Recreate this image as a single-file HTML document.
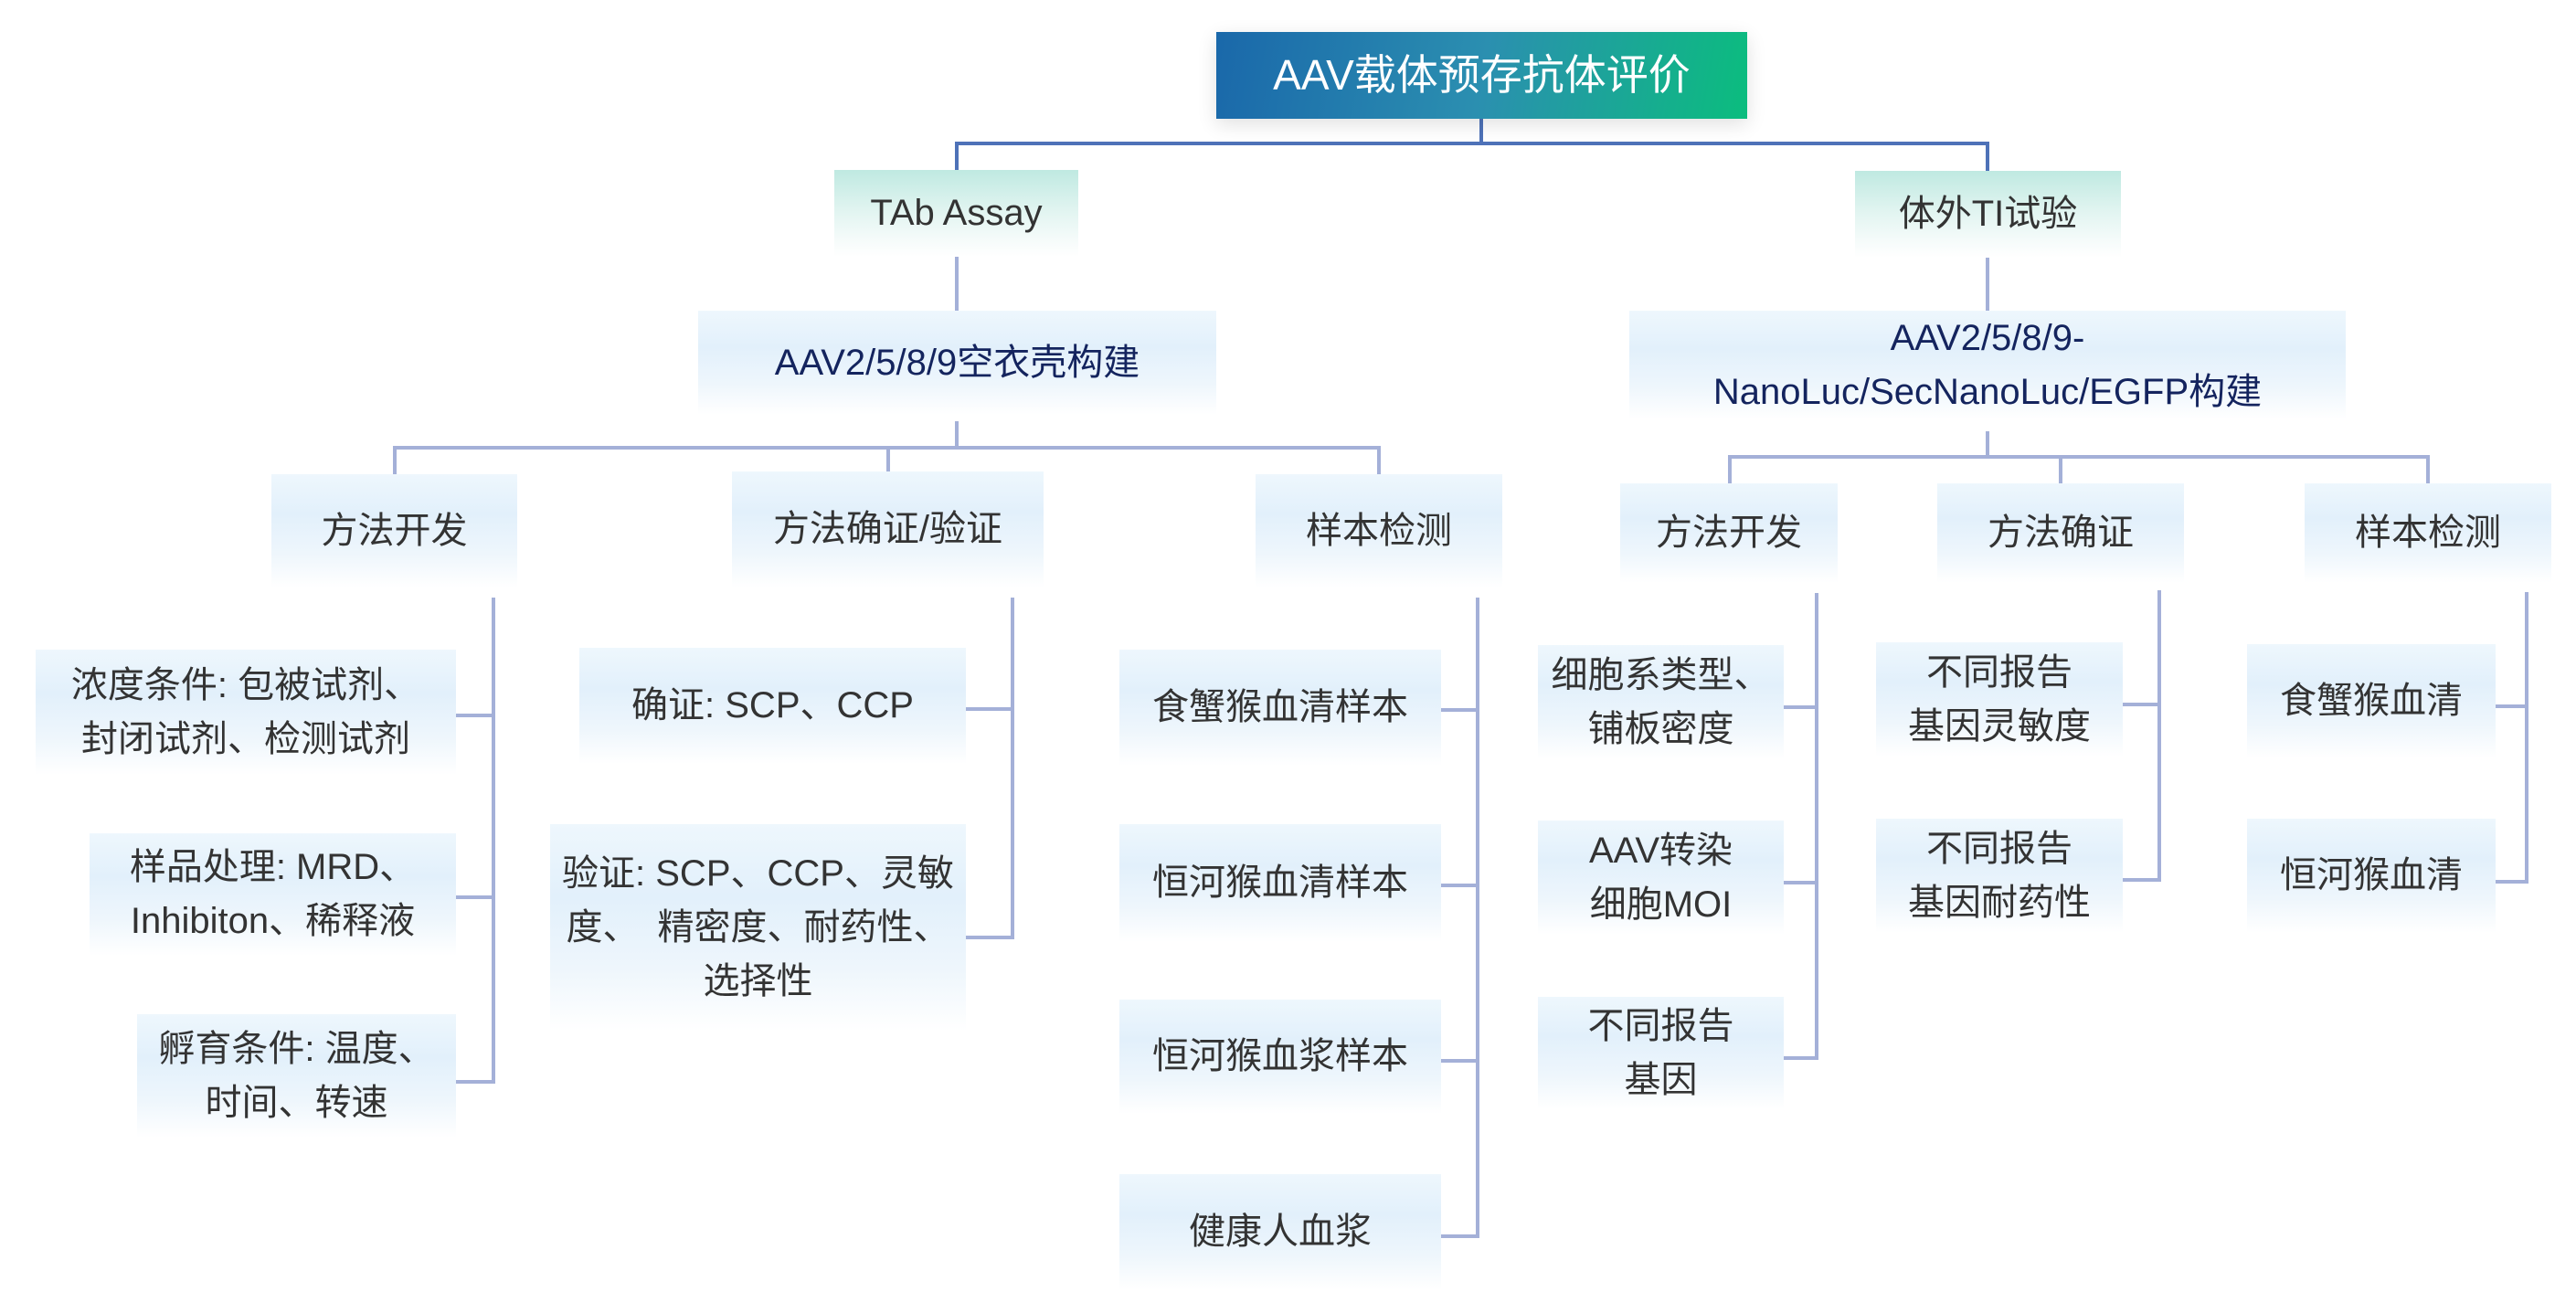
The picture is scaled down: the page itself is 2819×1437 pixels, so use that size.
<!DOCTYPE html>
<html><head><meta charset="utf-8"><style>
html,body{margin:0;padding:0;background:#fff;}
body{width:2819px;height:1437px;position:relative;overflow:hidden;font-family:"Liberation Sans","Noto Sans CJK SC",sans-serif;}
.b{position:absolute;display:flex;align-items:center;justify-content:center;text-align:center;color:#333;font-size:40px;line-height:59px;box-sizing:border-box;
background:linear-gradient(to bottom,#eef7fd 0%,#e2f0fb 35%,#eef6fc 70%,#ffffff 100%);}
.t{background:linear-gradient(to bottom,#bfe9e1 0%,#e0f4f0 45%,#f5fbfa 80%,#ffffff 100%);}
.n{color:#14245e;}
svg{position:absolute;left:0;top:0;}
</style></head><body>
<svg width="2819" height="1437">
<g stroke="#4e72b8" stroke-width="4" fill="none">
<polyline points="1621,130 1621,157"/>
<polyline points="1047,186 1047,157 2175,157 2175,187"/>
</g>
<g stroke="#a4b0d8" stroke-width="4" fill="none">
<line x1="1047" y1="281" x2="1047" y2="340"/>
<line x1="2175" y1="282" x2="2175" y2="340"/>
<polyline points="1047,461 1047,490"/>
<polyline points="432,519 432,490 1509,490 1509,519"/>
<line x1="972" y1="490" x2="972" y2="516"/>
<polyline points="2175,472 2175,500"/>
<polyline points="1893,529 1893,500 2657,500 2657,529"/>
<line x1="2255" y1="500" x2="2255" y2="529"/>
<polyline points="540,654 540,1184 499,1184"/><line x1="499" y1="783" x2="540" y2="783"/><line x1="499" y1="982" x2="540" y2="982"/>
<polyline points="1108,654 1108,1026 1057,1026"/><line x1="1057" y1="776" x2="1108" y2="776"/>
<polyline points="1617,654 1617,1353 1577,1353"/><line x1="1577" y1="777" x2="1617" y2="777"/><line x1="1577" y1="969" x2="1617" y2="969"/><line x1="1577" y1="1161" x2="1617" y2="1161"/>
<polyline points="1988,649 1988,1158 1952,1158"/><line x1="1952" y1="774" x2="1988" y2="774"/><line x1="1952" y1="966" x2="1988" y2="966"/>
<polyline points="2363,646 2363,963 2323,963"/><line x1="2323" y1="771" x2="2363" y2="771"/>
<polyline points="2765,648 2765,965 2731,965"/><line x1="2731" y1="773" x2="2765" y2="773"/>
</g>
</svg>
<div class="b" style="left:1331px;top:35px;width:581px;height:95px;color:#fff;font-size:46px;background:linear-gradient(100deg,#1a68aa 0%,#2b8fb0 50%,#0bbd7e 100%);box-shadow:0 6px 20px rgba(0,0,0,0.12);">AAV载体预存抗体评价</div>
<div class="b t" style="left:913px;top:186px;width:267px;height:95px;">TAb Assay</div>
<div class="b t" style="left:2030px;top:187px;width:291px;height:95px;">体外TI试验</div>
<div class="b n" style="left:764px;top:340px;width:567px;height:114px;">AAV2/5/8/9空衣壳构建</div>
<div class="b n" style="left:1783px;top:340px;width:784px;height:119px;">AAV2/5/8/9-<br>NanoLuc/SecNanoLuc/EGFP构建</div>
<div class="b" style="left:297px;top:519px;width:269px;height:124px;">方法开发</div>
<div class="b" style="left:801px;top:516px;width:341px;height:127px;">方法确证/验证</div>
<div class="b" style="left:1374px;top:519px;width:270px;height:124px;">样本检测</div>
<div class="b" style="left:1773px;top:529px;width:238px;height:109px;">方法开发</div>
<div class="b" style="left:2120px;top:529px;width:270px;height:109px;">方法确证</div>
<div class="b" style="left:2522px;top:529px;width:270px;height:109px;">样本检测</div>
<div class="b" style="left:39px;top:711px;width:460px;height:137px;">浓度条件: 包被试剂、<br>封闭试剂、检测试剂</div>
<div class="b" style="left:98px;top:912px;width:401px;height:134px;">样品处理: MRD、<br>Inhibiton、稀释液</div>
<div class="b" style="left:150px;top:1110px;width:349px;height:135px;">孵育条件: 温度、<br>时间、转速</div>
<div class="b" style="left:634px;top:709px;width:423px;height:127px;">确证: SCP、CCP</div>
<div class="b" style="left:602px;top:902px;width:455px;height:226px;">验证: SCP、CCP、灵敏<br>度、　精密度、耐药性、<br>选择性</div>
<div class="b" style="left:1225px;top:711px;width:352px;height:127px;">食蟹猴血清样本</div>
<div class="b" style="left:1225px;top:902px;width:352px;height:129px;">恒河猴血清样本</div>
<div class="b" style="left:1225px;top:1094px;width:352px;height:125px;">恒河猴血浆样本</div>
<div class="b" style="left:1225px;top:1285px;width:352px;height:127px;">健康人血浆</div>
<div class="b" style="left:1683px;top:706px;width:269px;height:125px;">细胞系类型、<br>铺板密度</div>
<div class="b" style="left:1683px;top:898px;width:269px;height:125px;">AAV转染<br>细胞MOI</div>
<div class="b" style="left:1683px;top:1091px;width:269px;height:123px;">不同报告<br>基因</div>
<div class="b" style="left:2053px;top:703px;width:270px;height:125px;">不同报告<br>基因灵敏度</div>
<div class="b" style="left:2053px;top:896px;width:270px;height:125px;">不同报告<br>基因耐药性</div>
<div class="b" style="left:2459px;top:705px;width:272px;height:125px;">食蟹猴血清</div>
<div class="b" style="left:2459px;top:896px;width:272px;height:125px;">恒河猴血清</div>
</body></html>
